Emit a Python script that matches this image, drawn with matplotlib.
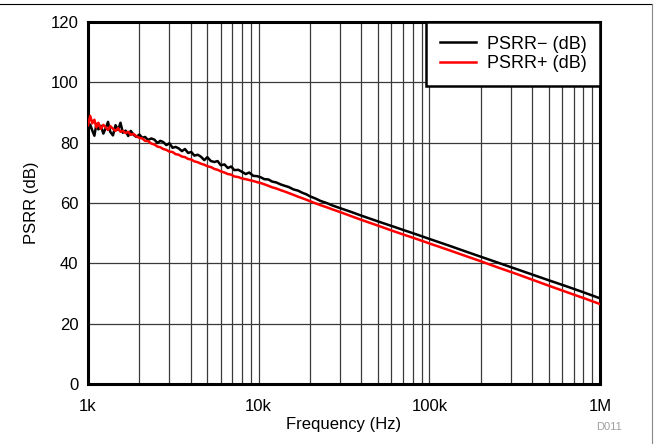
import matplotlib
matplotlib.use("Agg")
from matplotlib import pyplot as plt
from matplotlib.lines import Line2D
from matplotlib.ticker import FixedLocator, FixedFormatter, NullFormatter

# Frequency points (Hz) read along the x axis
freq = [1000, 1030, 1060, 1090, 1120, 1150, 1190, 1230, 1270, 1310, 1350, 1400,
        1450, 1500, 1550, 1600, 1660, 1720, 1780, 1850, 1920, 2000, 2080, 2160,
        2250, 2350, 2450, 2550, 2650, 2760, 2880, 3000, 3130, 3260, 3400, 3550,
        3700, 3860, 4030, 4200, 4400, 4600, 4800, 5000, 5250, 5500, 5750, 6000,
        6300, 6600, 6900, 7200, 7600, 8000, 8400, 8800, 9300, 9800, 10300, 10800,
        11400, 12000, 12700, 13400, 14200, 15000, 16000, 17000, 18000, 19000,
        20000, 21500, 23000, 25000, 27000, 30000, 35000, 40000, 50000, 60000,
        70000, 85000, 100000, 130000, 160000, 200000, 250000, 320000, 400000,
        500000, 650000, 800000, 1000000]

# PSRR- (dB), black trace
psrr_neg = [83.5, 86.0, 84.0, 82.3, 86.2, 84.4, 85.6, 83.0, 84.8, 86.9, 83.6, 82.4,
            85.8, 84.2, 86.6, 83.3, 84.0, 82.2, 83.9, 82.6, 81.9, 82.7, 81.6, 81.9,
            80.9, 81.4, 81.0, 79.9, 80.6, 80.2, 79.2, 79.8, 78.3, 78.6, 78.1, 77.2,
            77.9, 76.6, 76.9, 75.7, 76.0, 75.3, 74.2, 75.2, 73.9, 73.6, 73.9, 72.5,
            72.8, 71.6, 72.1, 70.9, 71.0, 70.3, 69.6, 70.1, 69.0, 68.9, 68.5, 67.9,
            67.8, 67.1, 66.8, 66.2, 65.7, 65.3, 64.5, 64.1, 63.4, 62.9,
            62.2, 61.5, 60.7, 60.0, 59.2, 58.3, 57.0, 55.8, 53.9, 52.4,
            51.1, 49.5, 48.1, 45.9, 44.1, 42.2, 40.3, 38.2, 36.3,
            34.4, 32.2, 30.4, 28.4]

# PSRR+ (dB), red trace
psrr_pos = [85.8, 88.9, 86.4, 87.6, 85.0, 86.6, 84.6, 85.9, 85.1, 84.2, 85.5, 84.6,
            83.9, 84.8, 83.6, 83.9, 83.2, 83.6, 82.6, 82.9, 82.1, 81.6, 81.4, 80.6,
            80.5, 79.7, 79.4, 78.7, 78.5, 77.9, 77.6, 77.0, 76.9, 76.2, 76.0, 75.4,
            75.2, 74.6, 74.4, 73.8, 73.5, 73.0, 72.7, 72.2, 71.9, 71.3, 71.0, 70.5,
            70.1, 69.6, 69.4, 68.8, 68.6, 68.1, 67.9, 67.6, 67.3, 66.9, 66.6, 66.2,
            65.7, 65.2, 64.8, 64.3, 63.8, 63.3, 62.7, 62.1, 61.6, 61.1,
            60.6, 59.9, 59.3, 58.6, 57.9, 57.0, 55.6, 54.4, 52.5, 50.9,
            49.6, 48.0, 46.6, 44.4, 42.6, 40.7, 38.7, 36.6, 34.6,
            32.6, 30.3, 28.5, 26.5]

xtick_vals = [1e3, 1e4, 1e5, 1e6]
xtick_labels = ["1k", "10k", "100k", "1M"]
ytick_vals = [0, 20, 40, 60, 80, 100, 120]

plt.rcParams['font.family'] = ['Liberation Sans', 'DejaVu Sans']
plt.rcParams['font.size'] = 12

fig = plt.figure(figsize=(6.54, 4.44), dpi=100)
ax = fig.add_axes([88 / 654, 60 / 444, 512 / 654, 362 / 444])

ax.plot(freq, psrr_neg, color="black", lw=1.8, label="PSRR\u2212 (dB)", zorder=3)
ax.plot(freq, psrr_pos, color="#ff0000", lw=1.8, label="PSRR+ (dB)", zorder=3)

ax.set_xscale("log")
ax.set_xlim(1e3, 1e6)
ax.set_ylim(0, 120)

ax.xaxis.set_major_locator(FixedLocator(xtick_vals))
ax.xaxis.set_major_formatter(FixedFormatter(xtick_labels))
minor = [m * d for d in (1e3, 1e4, 1e5) for m in range(2, 10)]
ax.xaxis.set_minor_locator(FixedLocator(minor))
ax.xaxis.set_minor_formatter(NullFormatter())
ax.set_yticks(ytick_vals)

ax.grid(True, which="both", axis="x", color="#3a3a3a", lw=0.9)
ax.grid(True, which="major", axis="y", color="#3a3a3a", lw=0.9)
ax.tick_params(which="both", length=0)
ax.tick_params(axis="x", pad=11)
ax.tick_params(axis="y", pad=7)

for s in ax.spines.values():
    s.set_linewidth(2.2)

ax.set_xlabel("Frequency (Hz)", labelpad=2)
ax.set_ylabel("PSRR (dB)", labelpad=8)

leg = ax.legend(loc="upper right", borderaxespad=0, fancybox=False,
                edgecolor="black", framealpha=1, fontsize=13,
                handlelength=2.0, handletextpad=0.6,
                borderpad=0.75, labelspacing=0.15)
leg.get_frame().set_linewidth(1.8)
leg.set_zorder(5)

fig.text(609 / 654, 1 - 427 / 444, "D011", color="#a0a0a0", fontsize=8,
         ha="center", va="center")

# thin frame at top and right of the figure
fig.add_artist(Line2D([0, 652 / 654], [1 - 4 / 444, 1 - 4 / 444],
                      transform=fig.transFigure, color="black", lw=0.8))
fig.add_artist(Line2D([652 / 654, 652 / 654], [0, 1 - 4 / 444],
                      transform=fig.transFigure, color="#888888", lw=0.8))

fig.savefig("out.png", dpi=100)
